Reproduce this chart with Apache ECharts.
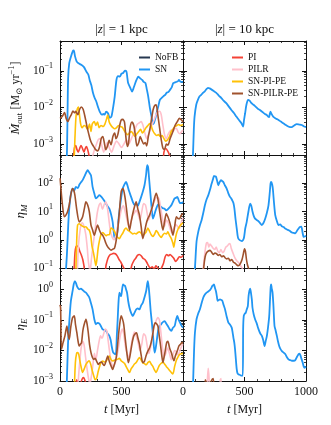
<!DOCTYPE html>
<html lang="en">
<head>
<meta charset="UTF-8">
<title>Outflow rates and loading factors</title>
<script src="https://cdn.jsdelivr.net/npm/echarts@6/dist/echarts.min.js"></script>
<style>
  html, body { margin: 0; padding: 0; background: #fff; }
  #main { width: 331px; height: 425px; }
</style>
</head>
<body>
<div id="main"></div>
<script>
// time axis in Myr
// ---- Mdot_out, |z| = 1 kpc ----
var mdot1_SN = [[40,1e-4],[55,4e-4],[62,1e-2],[66,6.3e-2],[75,1.6e-1],[90,2.5e-1],[105,3.5e-1],[112,3.6e-1],[122,2.5e-1],[135,1.8e-1],[150,1.6e-1],[173,1.45e-1],[195,1.26e-1],[214,9.5e-2],[230,7.9e-2],[241,5.6e-2],[255,4e-2],[268,2.5e-2],[282,1.8e-2],[295,1.45e-2],[310,1e-2],[322,7.8e-3],[340,6.3e-3],[355,6.6e-3],[363,6.3e-3],[375,7.6e-3],[390,6.9e-3],[405,5.2e-3],[418,5.6e-3],[432,1e-2],[445,2e-2],[459,5.6e-2],[472,7.1e-2],[486,6.9e-2],[500,8.3e-2],[513,8.7e-2],[528,1e-1],[540,9.5e-2],[548,6.3e-2],[554,4.6e-2],[570,3.5e-2],[586,2.7e-2],[596,3.2e-2],[608,4.2e-2],[622,5.6e-2],[636,6.9e-2],[650,6.3e-2],[668,5.6e-2],[680,5e-2],[695,4.6e-2],[705,3.2e-2],[717,2e-2],[730,1e-2],[744,5.6e-3],[755,3.5e-3],[763,3.7e-3],[775,5e-3],[785,6.9e-3],[800,1.1e-2],[812,1.6e-2],[825,1.8e-2],[840,2e-2],[855,2.2e-2],[867,2.5e-2],[880,2.6e-2],[894,3e-2],[908,3.5e-2],[921,4.6e-2],[935,4.8e-2],[948,5e-2],[960,5.2e-2],[967,5.6e-2],[980,5e-2],[1000,5e-2]];
var mdot1_PI = [[90,1e-4],[108,4e-4],[118,8e-4],[128,9e-4],[138,7e-4],[148,6e-4],[160,7.5e-4],[170,9e-4],[180,8e-4],[195,6e-4],[205,7.5e-4],[215,8.5e-4],[225,7e-4],[235,5e-4],[245,3e-4],[830,3e-4],[845,6e-4],[860,7.5e-4],[875,6.5e-4],[890,5e-4],[900,3e-4]];
var mdot1_PILR = [[200,1e-4],[260,4e-4],[280,7e-4],[295,9.5e-4],[310,1.3e-3],[325,1.4e-3],[340,9e-4],[355,6e-4],[370,8e-4],[385,1.1e-3],[400,8e-4],[420,6e-4],[440,9e-4],[460,1.2e-3],[480,1e-3],[500,8e-4],[520,1e-3],[540,1.3e-3],[560,1e-3],[580,1.4e-3],[600,2e-3],[615,2.8e-3],[630,3.5e-3],[645,3.8e-3],[660,4.1e-3],[675,3.2e-3],[690,2e-3],[705,1.4e-3],[720,1.8e-3],[735,2.5e-3],[750,3.5e-3],[765,4.5e-3],[780,6.3e-3],[795,7.5e-3],[810,7.8e-3],[823,6.3e-3],[835,3.5e-3],[850,1.8e-3],[864,1.4e-3],[878,1.8e-3],[892,2.2e-3],[905,2.4e-3],[918,2.2e-3],[932,2.6e-3],[946,2.7e-3],[960,2.1e-3],[975,1.9e-3],[990,2.2e-3],[1000,2.4e-3]];
var mdot1_SNPIPE = [[100,1e-4],[115,4e-4],[122,1.6e-3],[130,5.6e-3],[140,8.9e-3],[150,1.02e-2],[158,6.3e-3],[168,3.5e-3],[180,2.8e-3],[195,3.2e-3],[210,3e-3],[225,2.5e-3],[240,3.5e-3],[252,2.2e-3],[262,3.5e-3],[279,4.1e-3],[292,3.2e-3],[305,4e-3],[318,2.8e-3],[333,3.2e-3],[350,3e-3],[365,3.5e-3],[380,5e-3],[388,6.2e-3],[400,4e-3],[415,3.2e-3],[430,2.8e-3],[445,2.6e-3],[460,2.8e-3],[475,3.2e-3],[490,3e-3],[505,2.9e-3],[520,2.4e-3],[535,2e-3],[550,1.8e-3],[565,2e-3],[580,2.2e-3],[595,1.9e-3],[610,1.6e-3],[625,1.9e-3],[640,2.2e-3],[655,2.5e-3],[670,2e-3],[685,2.3e-3],[700,2.8e-3],[715,3.2e-3],[728,3.6e-3],[740,3.2e-3],[755,2.3e-3],[770,1.9e-3],[785,1.7e-3],[800,1.8e-3],[815,1.6e-3],[830,1.7e-3],[845,1.4e-3],[860,1.2e-3],[875,1.3e-3],[890,1.6e-3],[905,2.2e-3],[920,2.6e-3],[935,3e-3],[950,3.2e-3],[965,3.4e-3],[980,3.2e-3],[1000,3.4e-3]];
var mdot1_SNPILRPE = [[0,5e-3],[18,5.6e-3],[37,7.2e-3],[50,5e-3],[64,4.1e-3],[78,5.2e-3],[91,6.2e-3],[105,7.9e-3],[118,7.1e-3],[127,7.8e-3],[145,6.3e-3],[160,8.9e-3],[173,1.02e-2],[188,8.9e-3],[200,6.2e-3],[212,4e-3],[222,2.7e-3],[235,1.8e-3],[246,1.3e-3],[260,1e-3],[274,8.5e-4],[290,7e-4],[305,6.5e-4],[320,8e-4],[335,1.4e-3],[348,1.6e-3],[360,1.1e-3],[372,7e-4],[385,8.5e-4],[400,1.26e-3],[415,9.5e-4],[430,1.6e-3],[445,2e-3],[455,1.4e-3],[470,1.8e-3],[485,3.2e-3],[497,4.5e-3],[510,4.7e-3],[524,4e-3],[537,1.4e-3],[548,8.5e-4],[558,1.1e-3],[570,2.8e-3],[585,4e-3],[600,3.2e-3],[612,1.8e-3],[625,8.9e-4],[640,1.1e-3],[652,1.6e-3],[665,1.26e-3],[680,1e-3],[693,1.1e-3],[705,8.9e-4],[718,1.6e-3],[733,2.8e-3],[745,5e-3],[758,8.9e-3],[770,1.12e-2],[782,1.17e-2],[795,6.3e-3],[810,2.7e-3],[824,1.26e-3],[837,7.6e-4],[850,7.1e-4],[865,1e-3],[878,9.3e-4],[895,1.4e-3],[918,2.2e-3],[935,3.2e-3],[954,4.1e-3],[970,5e-3],[986,4.6e-3],[1000,4e-3]];

// ---- eta_M, |z| = 1 kpc ----
var etaM1_SN = [[45,0.05],[56,0.29],[67,3.3],[75,12.6],[88,40],[102,65],[115,55],[129,74],[145,68],[158,90],[172,110],[184,129],[200,180],[215,250],[225,290],[238,240],[252,190],[265,74],[278,45],[292,29],[306,33],[320,38],[333,34],[347,29],[360,24],[374,19],[388,15],[401,12.6],[415,8],[428,4.3],[436,2],[442,1.26],[452,1.1],[464,1.6],[475,5],[483,10],[497,30],[510,65],[523,90],[537,112],[548,85],[560,55],[578,33],[592,22],[605,17],[619,19],[633,16],[646,22],[660,33],[673,50],[687,85],[700,200],[709,440],[716,380],[726,120],[736,38],[746,12],[755,5.6],[764,7],[774,9.8],[786,14],[798,18],[810,16],[823,14.5],[836,13],[850,12.6],[863,11],[877,12],[891,14],[905,16.6],[918,22],[932,29],[946,31],[954,33],[965,25],[975,20],[990,20],[1000,22]];
var etaM1_PI = [[105,0.03],[115,0.1],[122,0.35],[130,0.56],[140,0.6],[150,0.55],[160,0.4],[172,0.3],[185,0.2],[195,0.12],[205,0.07],[360,0.07],[375,0.13],[390,0.22],[405,0.29],[420,0.31],[435,0.33],[450,0.32],[465,0.27],[480,0.2],[495,0.16],[510,0.12],[525,0.09],[540,0.07],[570,0.08],[585,0.13],[600,0.18],[615,0.22],[630,0.28],[645,0.3],[660,0.27],[675,0.22],[690,0.2],[705,0.16],[720,0.12],[735,0.1],[750,0.11],[765,0.09],[780,0.12],[795,0.1],[810,0.08],[825,0.1],[840,0.14],[855,0.25],[868,0.3],[882,0.27],[895,0.3],[910,0.26],[925,0.22],[940,0.17],[955,0.2],[970,0.25],[985,0.24],[1000,0.28]];
var etaM1_PILR = [[140,0.05],[150,0.6],[165,2.5],[180,4],[195,3],[210,1.5],[222,0.5],[232,0.15],[245,0.08],[255,0.2],[268,0.6],[280,1.5],[292,4],[305,10],[318,17],[330,20],[345,12],[360,18],[372,22],[385,14],[398,5],[410,2],[425,1.2],[440,1],[455,1.5],[470,3],[485,6],[500,12],[515,16],[530,10],[545,5],[560,3],[575,4],[590,7],[605,9],[620,11],[635,8],[650,5],[665,10],[680,19],[695,17],[708,9],[720,5],[735,8],[750,14],[765,22],[780,30],[795,32],[808,25],[820,12],[835,5],[850,3],[865,5],[880,4],[895,2.5],[910,1.8],[925,2.5],[940,3.5],[955,3],[970,2.5],[985,4],[1000,6]];
var etaM1_SNPIPE = [[128,0.05],[136,1],[143,3.3],[155,3.7],[170,3.3],[184,3],[200,2.8],[211,2.9],[225,2.4],[238,2.2],[250,1.4],[260,0.6],[272,0.35],[282,0.2],[292,0.12],[300,0.2],[310,0.5],[320,0.9],[333,1.5],[347,1.8],[360,1.6],[374,1.4],[388,1.5],[401,1.5],[415,2.6],[428,2.4],[442,2],[456,1.5],[470,1.2],[483,1.1],[497,1.4],[510,1.7],[525,2.3],[537,2.6],[550,2.2],[565,2],[578,1.8],[592,1.6],[605,1.7],[619,1.6],[633,1.8],[646,1.9],[660,1.7],[673,1.4],[687,1.6],[701,1.9],[714,2.6],[728,2],[742,1.5],[755,1.3],[770,1.6],[782,2.1],[795,1.8],[809,1.4],[823,1.2],[837,1.5],[850,1.7],[864,1.6],[877,1.9],[891,1.4],[905,1.1],[918,0.75],[925,0.55],[932,0.8],[946,1.6],[960,2.4],[973,3],[986,3.5],[1000,4]];
var etaM1_SNPILRPE = [[1,150],[10,49],[20,17],[35,6.5],[48,7.4],[62,10],[75,17],[90,44],[102,65],[112,56],[121,38],[137,11],[156,4.3],[170,4.9],[184,6.5],[198,12.6],[211,22],[225,17],[238,10],[252,3.3],[265,2.2],[279,1.45],[292,2.2],[306,3.3],[320,2.2],[333,1.66],[347,1.45],[360,1.1],[374,0.74],[388,0.56],[401,0.48],[415,0.43],[428,0.46],[442,0.49],[455,0.85],[469,2.2],[483,10],[497,49],[510,65],[518,56],[528,33],[537,17],[550,5.6],[565,2.2],[578,4.3],[592,8.5],[605,14.5],[619,22],[632,12.6],[646,7.4],[660,2.9],[673,1.1],[687,1.9],[701,3.7],[714,5.6],[728,7.4],[742,11],[755,17],[768,29],[782,44],[795,29],[809,11],[823,4.3],[837,2.2],[850,4.3],[864,8.5],[877,6.5],[891,4.3],[905,2.5],[918,1.45],[932,2.9],[946,6.5],[960,5.6],[973,5.6],[986,7.4],[1000,8.5]];

// ---- eta_E, |z| = 1 kpc ----
var etaE1_SN = [[45,1e-4],[56,1.1e-3],[65,1.6e-2],[75,8e-2],[88,0.4],[102,0.87],[112,1.5],[121,1.86],[130,1.6],[137,1.3],[146,1.1],[156,1],[170,1.05],[184,0.95],[197,0.85],[211,0.78],[225,0.65],[238,0.54],[252,0.35],[265,0.22],[279,0.105],[292,0.072],[306,0.08],[320,0.075],[333,0.062],[347,0.049],[360,0.047],[374,0.044],[388,0.035],[401,0.03],[412,0.022],[420,0.014],[430,0.009],[437,0.0081],[449,0.0075],[456,0.0085],[462,0.03],[469,0.105],[476,0.4],[483,0.78],[490,0.65],[497,0.6],[505,1],[513,1.45],[521,1.35],[529,1.3],[537,1],[545,0.78],[555,0.4],[565,0.25],[578,0.17],[592,0.135],[605,0.17],[619,0.22],[632,0.24],[646,0.22],[660,0.3],[673,0.36],[687,0.55],[701,0.9],[709,1.5],[714,1.86],[721,1.2],[728,0.6],[737,0.2],[747,0.081],[758,0.025],[769,0.0085],[778,0.012],[788,0.023],[798,0.045],[809,0.063],[820,0.07],[830,0.08],[850,0.091],[865,0.075],[877,0.063],[891,0.05],[905,0.044],[918,0.055],[932,0.063],[943,0.1],[954,0.135],[965,0.1],[976,0.081],[988,0.065],[1000,0.056]];
var etaE1_PI = [[110,1e-4],[125,5e-4],[135,1.1e-3],[145,9e-4],[158,7e-4],[170,9e-4],[182,1.2e-3],[192,1.3e-3],[204,1e-3],[215,7e-4],[228,4e-4]];
var etaE1_PILR = [[140,1e-4],[150,1.2e-3],[160,4e-3],[172,1.2e-2],[184,2e-2],[196,1.5e-2],[208,6e-3],[220,2.5e-3],[232,1.2e-3],[244,8e-4],[256,1.5e-3],[268,3.5e-3],[280,8e-3],[292,5e-3],[305,1e-2],[318,2e-2],[330,3e-2],[342,2.5e-2],[355,3.5e-2],[368,5e-2],[380,4.5e-2],[392,2e-2],[405,8e-3],[418,4e-3],[430,3e-3],[445,3.5e-3],[460,6e-3],[475,1.2e-2],[490,3e-2],[505,5e-2],[518,3.5e-2],[530,1.5e-2],[545,8e-3],[560,6e-3],[575,1.2e-2],[590,2.5e-2],[605,4e-2],[620,3e-2],[635,1.8e-2],[650,1e-2],[665,1.6e-2],[680,3.5e-2],[695,3e-2],[708,1.5e-2],[722,8e-3],[735,1.2e-2],[750,3e-2],[765,6e-2],[780,9e-2],[795,0.12],[808,0.1],[820,4e-2],[833,1.2e-2],[847,6e-3],[860,8e-3],[875,1.2e-2],[890,8e-3],[905,5e-3],[918,7e-3],[932,1e-2],[946,9e-3],[960,7e-3],[975,1e-2],[990,1.4e-2],[1000,1.6e-2]];
var etaE1_SNPIPE = [[112,1e-4],[118,8e-4],[125,4e-3],[135,8e-3],[143,8.5e-3],[152,7.5e-3],[160,5e-3],[170,3.1e-3],[184,1.9e-3],[197,2.5e-3],[211,3.5e-3],[225,4.2e-3],[238,4.6e-3],[250,3.5e-3],[262,2.2e-3],[274,1.5e-3],[286,1.1e-3],[297,1.2e-3],[310,2e-3],[320,2.8e-3],[333,4e-3],[347,4.5e-3],[360,4.2e-3],[374,4.4e-3],[388,5.5e-3],[401,6.6e-3],[415,5e-3],[428,4.5e-3],[442,4.8e-3],[456,5e-3],[470,5.2e-3],[483,5.5e-3],[497,4.6e-3],[510,4.2e-3],[524,3.8e-3],[537,3e-3],[550,2.4e-3],[565,1.9e-3],[578,2.5e-3],[592,3e-3],[605,3.6e-3],[619,4e-3],[633,5e-3],[646,5.9e-3],[660,4.8e-3],[673,4e-3],[687,3.7e-3],[701,3.4e-3],[714,4e-3],[728,4.4e-3],[741,3.6e-3],[755,3e-3],[768,2.3e-3],[782,1.9e-3],[795,2.5e-3],[809,3.3e-3],[823,3.8e-3],[837,4.2e-3],[850,3.6e-3],[864,3e-3],[877,2.6e-3],[891,2.2e-3],[905,1.9e-3],[918,1.7e-3],[932,3e-3],[946,4.8e-3],[960,6.2e-3],[973,7.4e-3],[986,7.8e-3],[1000,8e-3]];
var etaE1_SNPILRPE = [[0,0.31],[5,0.25],[12,0.011],[25,0.018],[40,0.03],[56,0.063],[65,0.035],[75,0.023],[88,0.06],[102,0.118],[116,0.135],[126,0.07],[137,0.038],[147,0.02],[156,0.014],[166,0.016],[175,0.018],[186,0.045],[197,0.072],[211,0.105],[221,0.07],[230,0.038],[241,0.015],[252,0.0085],[263,0.006],[274,0.0051],[285,0.0055],[297,0.0045],[312,0.0035],[325,0.004],[338,0.0042],[350,0.0035],[360,0.0032],[374,0.0045],[388,0.0066],[400,0.0045],[410,0.0035],[420,0.0028],[428,0.0024],[442,0.0035],[456,0.0055],[466,0.012],[475,0.03],[485,0.07],[497,0.135],[507,0.11],[518,0.072],[528,0.03],[537,0.014],[547,0.0065],[556,0.004],[567,0.006],[578,0.011],[589,0.02],[600,0.03],[611,0.035],[622,0.038],[634,0.025],[646,0.016],[660,0.007],[673,0.004],[687,0.0045],[701,0.007],[714,0.0095],[728,0.012],[741,0.018],[752,0.03],[763,0.06],[774,0.081],[785,0.075],[796,0.063],[807,0.03],[818,0.014],[828,0.0065],[837,0.004],[846,0.006],[856,0.01],[867,0.018],[877,0.02],[891,0.012],[905,0.0085],[918,0.0055],[926,0.0046],[937,0.0065],[948,0.0085],[958,0.011],[967,0.014],[980,0.016],[992,0.018],[1000,0.017]];

// ---- |z| = 10 kpc ----
var mdot10_SN = [[70,1e-4],[80,4e-4],[88,2.5e-3],[94,5.6e-3],[108,1.2e-2],[121,1.6e-2],[135,2e-2],[148,2.2e-2],[162,2.5e-2],[175,2.7e-2],[189,3.1e-2],[203,3.4e-2],[216,3.3e-2],[230,3.1e-2],[250,2.8e-2],[271,2.5e-2],[291,2.1e-2],[312,1.8e-2],[332,1.5e-2],[352,1.3e-2],[373,1.05e-2],[393,8.5e-3],[414,7e-3],[434,5.6e-3],[455,4.5e-3],[475,3.7e-3],[488,3e-3],[496,4.5e-3],[505,6.9e-3],[516,1.2e-2],[529,1.6e-2],[543,1.5e-2],[557,1.3e-2],[570,1.2e-2],[584,1.1e-2],[597,1e-2],[611,9e-3],[625,8.5e-3],[638,7.8e-3],[652,7.2e-3],[666,6.6e-3],[679,6.3e-3],[692,5.6e-3],[700,5.4e-3],[705,6.5e-3],[711,7.6e-3],[720,6.6e-3],[733,5.6e-3],[753,5e-3],[774,4.6e-3],[795,4.1e-3],[815,3.7e-3],[836,3.3e-3],[856,3e-3],[870,2.9e-3],[883,2.9e-3],[904,3.2e-3],[924,3.5e-3],[945,3.4e-3],[965,3.3e-3],[985,3e-3],[1000,2.9e-3]];
var etaM10_SN = [[85,0.03],[97,0.1],[110,0.85],[124,1.9],[137,3.2],[151,4.9],[165,9],[178,16.6],[192,27],[206,38],[220,60],[233,98],[244,140],[252,182],[260,175],[268,170],[278,120],[287,85],[298,110],[309,129],[318,120],[328,110],[340,85],[355,65],[368,45],[382,33],[390,30],[400,25],[410,20],[418,12.6],[428,5],[437,2.5],[444,1.4],[450,1.1],[464,0.95],[478,0.9],[494,1.1],[506,2.5],[518,4.3],[532,10],[546,19],[555,16],[565,10],[575,7],[586,5.6],[600,5],[615,4.5],[628,3.8],[641,3.3],[655,4],[668,5.5],[682,9],[695,16.6],[706,50],[712,100],[717,112],[725,90],[731,60],[740,20],[750,7.4],[763,4.6],[777,3.3],[790,3.5],[804,3],[818,2.8],[831,2.5],[845,2.3],[858,2.2],[872,2],[886,1.8],[900,1.75],[913,1.7],[927,2.1],[940,2.5],[950,2.8],[962,2.9],[972,1.8],[981,1.26],[990,1.3],[1000,1.4]];
var etaM10_PILR = [[150,0.03],[165,0.1],[178,0.35],[190,0.75],[200,0.8],[210,0.55],[220,0.7],[232,0.6],[245,0.5],[258,0.45],[270,0.55],[282,0.4],[295,0.35],[308,0.45],[322,0.35],[335,0.4],[348,0.55],[360,0.6],[372,0.7],[382,0.74],[392,0.5],[405,0.35],[418,0.25],[430,0.2],[442,0.17],[455,0.15],[468,0.12],[480,0.1],[492,0.08],[505,0.06]];
var etaM10_SNPILRPE = [[160,0.03],[170,0.12],[180,0.25],[192,0.35],[206,0.4],[220,0.42],[233,0.36],[246,0.3],[260,0.34],[273,0.32],[287,0.28],[300,0.3],[315,0.25],[330,0.27],[342,0.23],[355,0.21],[370,0.22],[382,0.18],[396,0.2],[410,0.16],[423,0.15],[437,0.13],[450,0.12],[465,0.14],[480,0.2],[491,0.32],[500,0.48],[508,0.38],[516,0.2],[524,0.13],[532,0.1],[545,0.07],[560,0.04]];
var etaE10_SN = [[75,1e-4],[83,1.15e-3],[90,0.01],[97,0.038],[110,0.105],[123,0.16],[137,0.22],[151,0.35],[165,0.54],[178,0.68],[192,0.78],[205,0.85],[219,0.95],[230,1.1],[238,1.29],[245,1.35],[252,1.45],[260,1.1],[268,0.87],[275,0.6],[282,0.42],[292,0.45],[301,0.47],[310,0.45],[320,0.42],[331,0.3],[342,0.22],[355,0.13],[369,0.081],[383,0.07],[396,0.056],[403,0.04],[410,0.026],[417,0.018],[423,0.011],[430,0.005],[437,0.0024],[443,0.0018],[450,0.00166],[461,0.0016],[472,0.0015],[486,0.0015],[489,0.05],[494,0.135],[502,0.16],[510,0.17],[518,0.22],[527,0.28],[533,0.6],[540,0.9],[546,1.05],[552,0.8],[560,0.45],[565,0.25],[575,0.15],[586,0.105],[598,0.08],[610,0.055],[619,0.044],[630,0.035],[641,0.03],[652,0.022],[663,0.014],[672,0.02],[682,0.03],[692,0.06],[701,0.135],[708,0.5],[713,1.2],[717,1.45],[721,1.1],[728,0.78],[735,0.3],[744,0.063],[753,0.045],[763,0.03],[772,0.02],[782,0.014],[793,0.011],[804,0.0095],[818,0.0085],[831,0.0076],[845,0.006],[858,0.0051],[872,0.0048],[886,0.0046],[900,0.0046],[913,0.0048],[927,0.0062],[940,0.0076],[948,0.0078],[954,0.007],[962,0.0055],[973,0.004],[981,0.003],[989,0.0027],[1000,0.003]];
var etaE10_PILR = [[190,1e-4],[198,1e-3],[205,2.6e-3],[212,1.2e-3],[220,1e-4],[295,1e-4],[303,1.1e-3],[310,1.2e-3],[318,1e-4]];
var etaE10_SNPILRPE = [[170,1e-4],[180,1.1e-3],[190,9e-4],[205,5e-4],[230,1e-3],[245,1.2e-3],[255,5e-4]];

var seriesNames = ['NoFB', 'SN', 'PI', 'PILR', 'SN-PI-PE', 'SN-PILR-PE'];
var seriesColors = ['#263850', '#2196f3', '#f44336', '#ffc0cb', '#ffc107', '#a0522d'];

// panel k = row * 2 + col
var panelData = [
    {NoFB: [], SN: mdot1_SN, PI: mdot1_PI, PILR: mdot1_PILR, 'SN-PI-PE': mdot1_SNPIPE, 'SN-PILR-PE': mdot1_SNPILRPE},
    {SN: mdot10_SN},
    {SN: etaM1_SN, PI: etaM1_PI, PILR: etaM1_PILR, 'SN-PI-PE': etaM1_SNPIPE, 'SN-PILR-PE': etaM1_SNPILRPE},
    {SN: etaM10_SN, PILR: etaM10_PILR, 'SN-PILR-PE': etaM10_SNPILRPE},
    {SN: etaE1_SN, PI: etaE1_PI, PILR: etaE1_PILR, 'SN-PI-PE': etaE1_SNPIPE, 'SN-PILR-PE': etaE1_SNPILRPE},
    {SN: etaE10_SN, PILR: etaE10_PILR, 'SN-PILR-PE': etaE10_SNPILRPE}
];

var rowLimits = [[5e-4, 0.65], [0.1, 1000], [1e-3, 5]];
var rowLabels = [[1e-3, 1e-2, 1e-1], [0.1, 1, 10, 100], [1e-3, 1e-2, 1e-1, 1]];
var rowBoxes = [{top: 41, height: 114}, {top: 155, height: 113}, {top: 268, height: 113}];
var colBoxes = [{left: 60, width: 123}, {left: 183, width: 123}];

var serif = '"Liberation Serif", "DejaVu Serif", serif';
var ink = '#111';

var myChart = echarts.init(document.getElementById('main'), null, {renderer: 'canvas'});

// decade and 2..9 positions for the log tick marks
function decades(lo, hi) {
    var out = [];
    for (var e = Math.floor(Math.log10(lo)); e <= Math.ceil(Math.log10(hi)); e++) {
        var v = Math.pow(10, e);
        if (v >= lo * 0.999 && v <= hi * 1.001) out.push(v);
    }
    return out;
}
function minors(lo, hi) {
    var out = [];
    for (var e = Math.floor(Math.log10(lo)); e <= Math.ceil(Math.log10(hi)); e++) {
        for (var m = 2; m <= 9; m++) {
            var v = m * Math.pow(10, e);
            if (v >= lo * 0.999 && v <= hi * 1.001) out.push(v);
        }
    }
    return out;
}
function powLabel(v) {
    var e = Math.round(Math.log10(v));
    return '{b|10}{s|' + (e < 0 ? '\u2212' + (-e) : e) + '}';
}
var powRich = {
    b: {fontFamily: serif, fontSize: 11.5, color: ink, lineHeight: 17},
    s: {fontFamily: serif, fontSize: 8, color: ink, lineHeight: 9, verticalAlign: 'top'}
};
var nameRich = {
    it: {fontFamily: serif, fontStyle: 'italic', fontSize: 13, color: ink, lineHeight: 17},
    r: {fontFamily: serif, fontSize: 12, color: ink, lineHeight: 17},
    sub: {fontFamily: serif, fontSize: 8.5, color: ink, lineHeight: 10, verticalAlign: 'bottom'},
    isub: {fontFamily: serif, fontStyle: 'italic', fontSize: 9, color: ink, lineHeight: 10, verticalAlign: 'bottom'},
    sup: {fontFamily: serif, fontSize: 8.5, color: ink, lineHeight: 10, verticalAlign: 'top'}
};
var yNames = [
    '{it|\u1E40}{sub|out} {r|[M}{sub|\u2299} {r|yr}{sup|\u22121}{r|]}',
    '{it|\u03B7}{isub|M}',
    '{it|\u03B7}{isub|E}'
];
var yNameGaps = [36, 31, 31];

var grids = [], xAxes = [], yAxes = [], series = [];
for (var row = 0; row < 3; row++) {
    for (var col = 0; col < 2; col++) {
        var k = row * 2 + col;
        grids.push({left: colBoxes[col].left, width: colBoxes[col].width, top: rowBoxes[row].top, height: rowBoxes[row].height,
            show: false, containLabel: false});
        var lo = rowLimits[row][0], hi = rowLimits[row][1];
        var bottomRow = row === 2;
        var xBase = {
            type: 'value', gridIndex: k, min: 0, max: 1000, interval: 500,
            axisLine: {show: true, lineStyle: {color: ink, width: 1}},
            axisTick: {show: true, inside: true, length: 4, lineStyle: {color: ink, width: 1}},
            minorTick: {show: true, splitNumber: 5, length: 2, lineStyle: {color: ink, width: 0.8}},
            splitLine: {show: false}, minorSplitLine: {show: false}
        };
        xAxes.push(Object.assign({}, xBase, {
            position: 'bottom',
            axisLabel: {show: bottomRow, margin: 5, fontFamily: serif, fontSize: 12, color: ink,
                formatter: col === 0 ? function (v) { return v === 1000 ? '' : String(v); } : function (v) { return String(v); }},
            name: bottomRow ? '{i|t} [Myr]' : '', nameLocation: 'middle', nameGap: 22,
            nameTextStyle: {fontFamily: serif, fontSize: 12, color: ink, rich: {i: {fontFamily: serif, fontStyle: 'italic', fontSize: 12.5, color: ink}}}
        }));
        xAxes.push(Object.assign({}, xBase, {position: 'top', axisLabel: {show: false}}));

        var majors = decades(lo, hi);
        var minorVals = minors(lo, hi);
        var yBase = {
            type: 'log', gridIndex: k, min: lo, max: hi,
            splitLine: {show: false}, minorTick: {show: false}, minorSplitLine: {show: false}
        };
        yAxes.push(Object.assign({}, yBase, {
            position: 'left',
            axisLine: {show: true, lineStyle: {color: ink, width: 1}},
            axisTick: {show: true, inside: true, length: 4, customValues: majors, lineStyle: {color: ink, width: 1}},
            axisLabel: {show: col === 0, margin: 7, customValues: rowLabels[row], formatter: powLabel, rich: powRich},
            name: col === 0 ? yNames[row] : '', nameLocation: 'middle', nameRotate: 90, nameGap: yNameGaps[row],
            nameTextStyle: {rich: nameRich}
        }));
        yAxes.push(Object.assign({}, yBase, {
            position: 'left', axisLine: {show: false},
            axisTick: {show: true, inside: true, length: 2, customValues: minorVals, lineStyle: {color: ink, width: 0.8}},
            axisLabel: {show: false}
        }));
        yAxes.push(Object.assign({}, yBase, {
            position: 'right',
            axisLine: {show: true, lineStyle: {color: ink, width: 1}},
            axisTick: {show: true, inside: true, length: 4, customValues: majors, lineStyle: {color: ink, width: 1}},
            axisLabel: {show: false}
        }));
        yAxes.push(Object.assign({}, yBase, {
            position: 'right', axisLine: {show: false},
            axisTick: {show: true, inside: true, length: 2, customValues: minorVals, lineStyle: {color: ink, width: 0.8}},
            axisLabel: {show: false}
        }));

        for (var s = 0; s < seriesNames.length; s++) {
            var nm = seriesNames[s];
            if (!(nm in panelData[k])) continue;
            series.push({
                name: nm, type: 'line', xAxisIndex: 2 * k, yAxisIndex: 4 * k,
                data: panelData[k][nm], showSymbol: false, symbol: 'none', smooth: 0.25,
                clip: true, silent: true, animation: false,
                lineStyle: {color: seriesColors[s], width: nm === 'SN' ? 1.8 : 1.6},
                itemStyle: {color: seriesColors[s]}
            });
        }
    }
}

var legendText = {fontFamily: serif, fontSize: 9.5, color: ink, lineHeight: 10};
var option = {
    animation: false,
    color: seriesColors,
    grid: grids,
    xAxis: xAxes,
    yAxis: yAxes,
    legend: [
        {data: ['NoFB', 'SN'], orient: 'vertical', left: 134, top: 47.5, icon: 'rect', itemWidth: 11, itemHeight: 2, itemGap: 2,
            textStyle: legendText, selectedMode: false},
        {data: ['PI', 'PILR', 'SN-PI-PE', 'SN-PILR-PE'], orient: 'vertical', left: 227, top: 47.5, icon: 'rect', itemWidth: 11, itemHeight: 2, itemGap: 2,
            textStyle: legendText, selectedMode: false}
    ],
    graphic: [
        {type: 'text', x: 121.5, y: 30, style: {text: '|{i|z}| = 1 kpc', align: 'center', verticalAlign: 'middle',
            fontFamily: serif, fontSize: 13, fill: ink, rich: {i: {fontFamily: serif, fontStyle: 'italic', fontSize: 13, fill: ink}}}},
        {type: 'text', x: 244.5, y: 30, style: {text: '|{i|z}| = 10 kpc', align: 'center', verticalAlign: 'middle',
            fontFamily: serif, fontSize: 13, fill: ink, rich: {i: {fontFamily: serif, fontStyle: 'italic', fontSize: 13, fill: ink}}}}
    ],
    series: series
};

myChart.setOption(option);
</script>
</body>
</html>
